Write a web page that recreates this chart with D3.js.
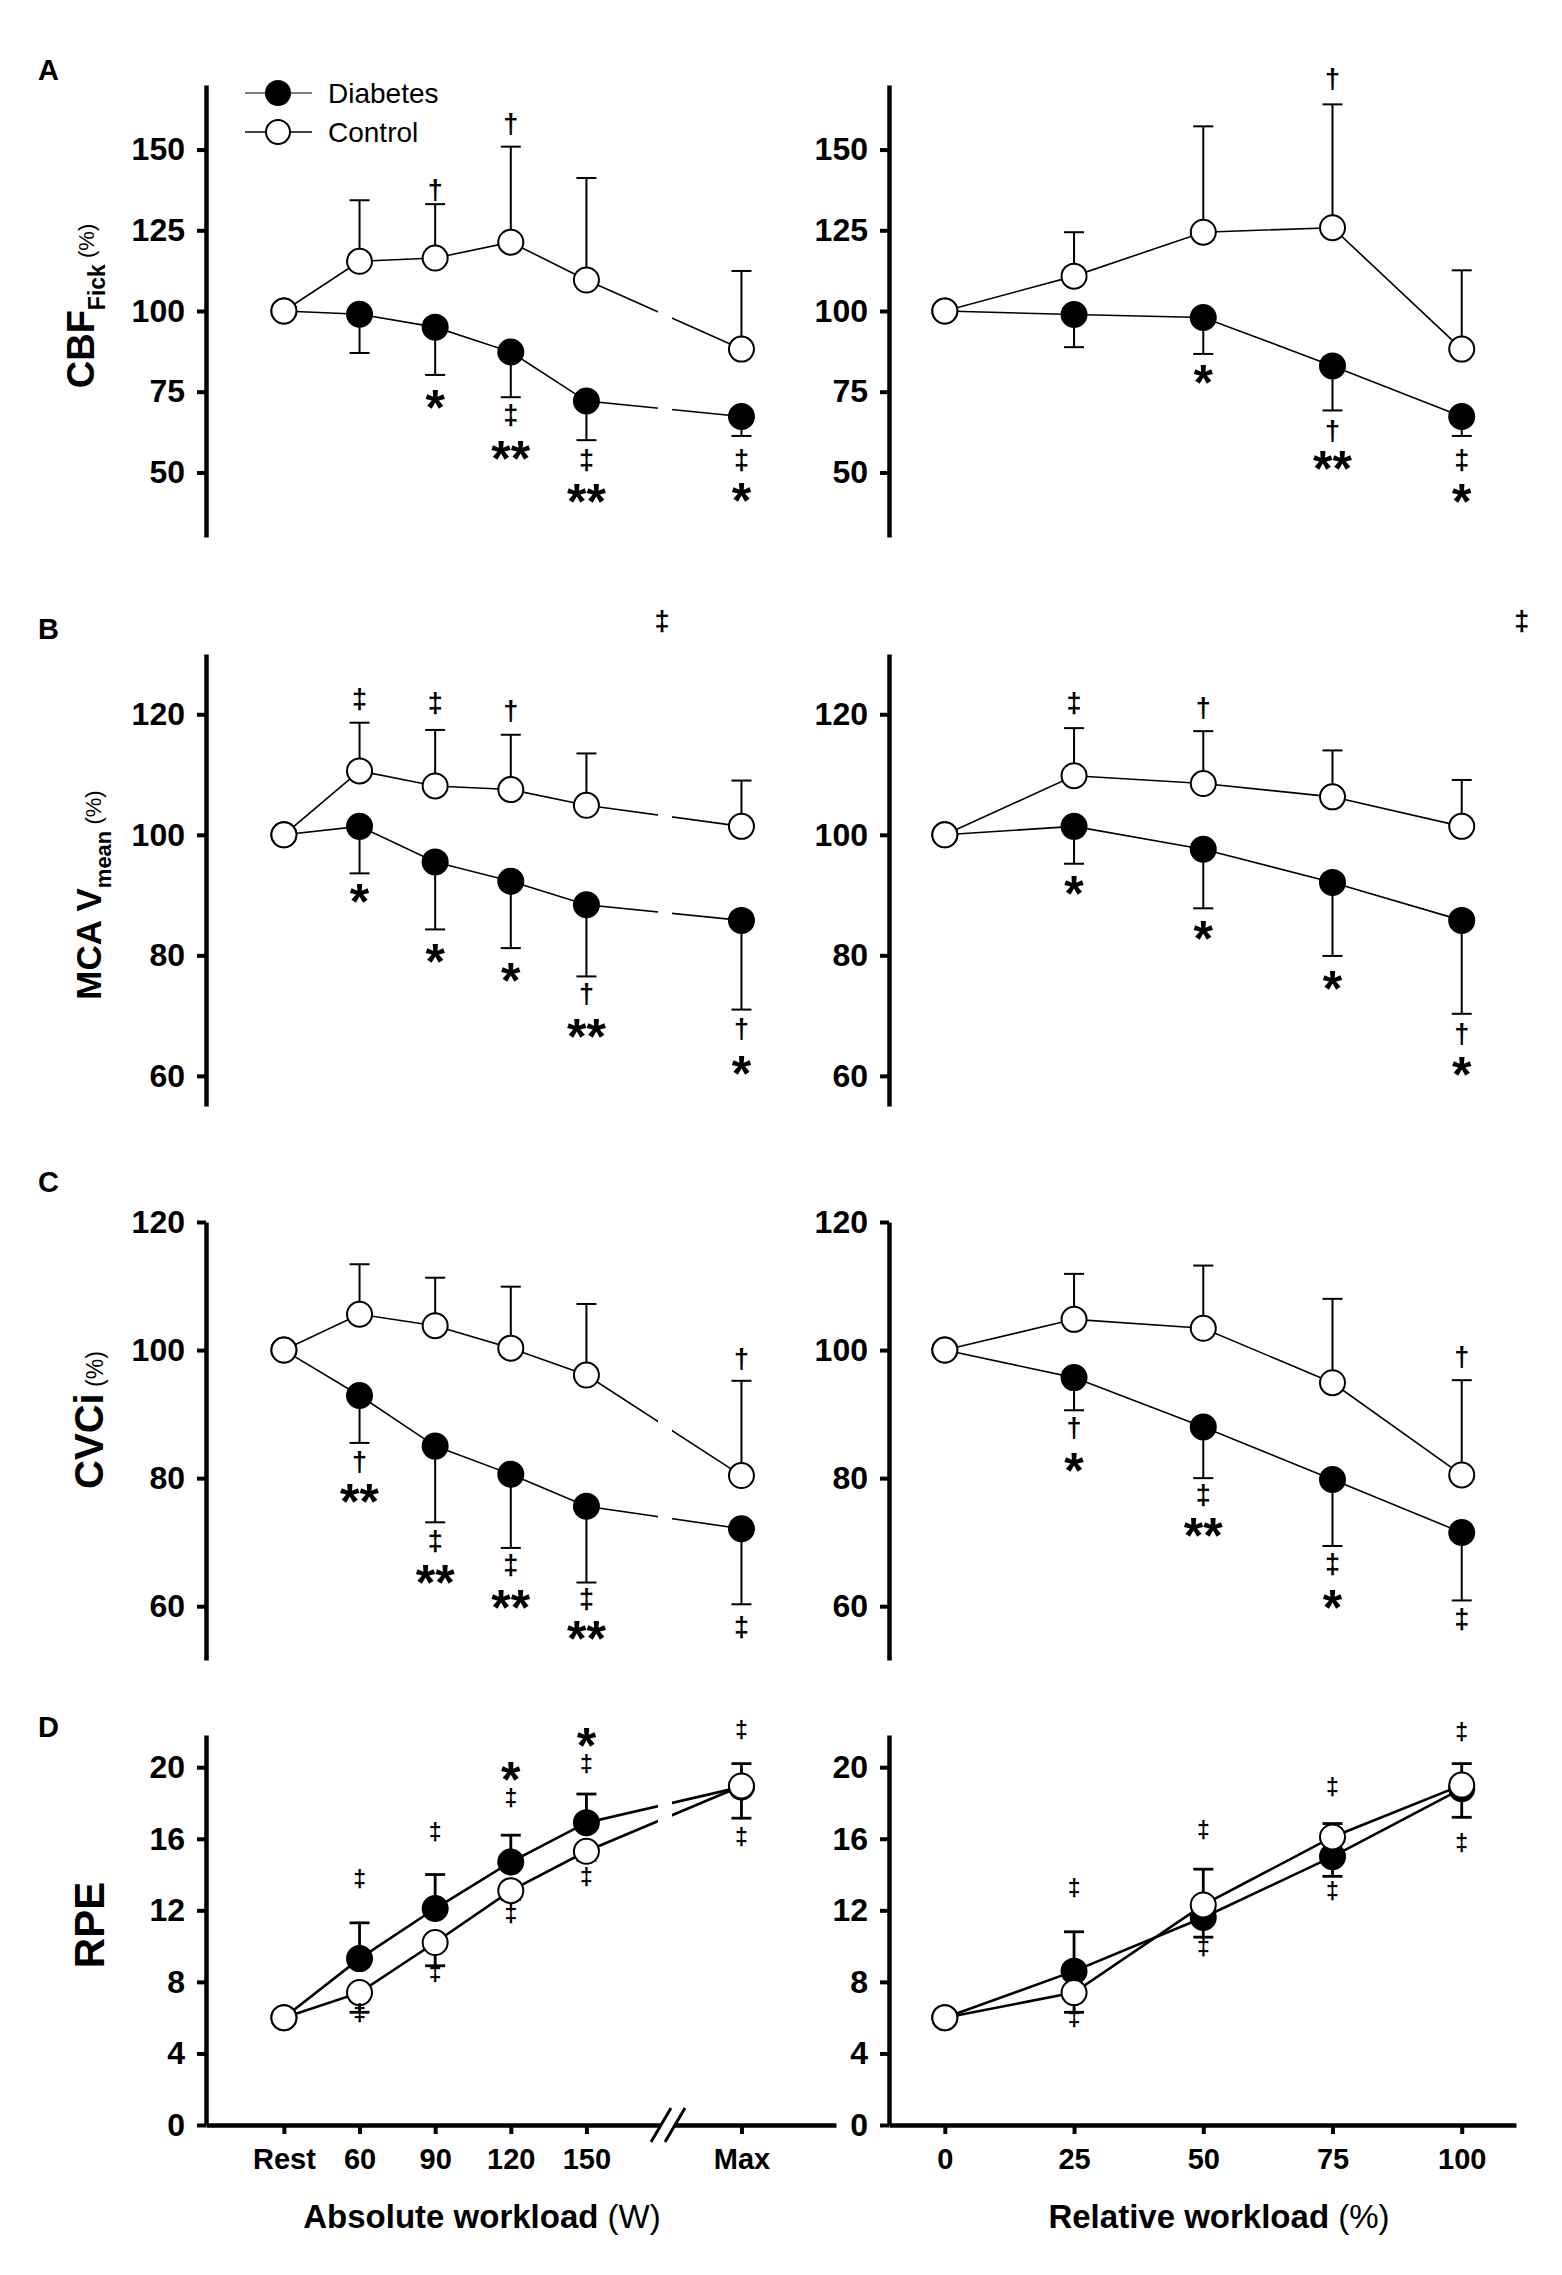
<!DOCTYPE html>
<html lang="en">
<head>
<meta charset="utf-8">
<title>CBF, MCA Vmean, CVCi and RPE during exercise</title>
<script src="https://d3js.org/d3.v7.min.js"></script>
<style>
  body { margin: 0; background: #fff; }
  svg text { font-family: "Liberation Sans", Arial, Helvetica, sans-serif; fill: #000; }
  .axis path, .axis line { stroke: #000; }
  .axis text { font-weight: bold; }
</style>
</head>
<body>
<script>
// ---- categories / tick labels ----
const absLabels = ["Rest", "60", "90", "120", "150", "Max"];
const absPos = [0, 1, 2, 3, 4, 6.05];          // Max sits after the axis break
const relLabels = ["0", "25", "50", "75", "100"];
const relPos = [0, 25, 50, 75, 100];

// ---- A: CBF Fick (%) ----
const cbfAbsDiab   = [100, 99.0, 95.0, 87.3, 72.1, 67.3];
const cbfAbsDiabSD = [0, 12.0, 14.8, 14.0, 12.1, 6.0];
const cbfAbsCtrl   = [100, 115.4, 116.4, 121.3, 109.6, 88.2];
const cbfAbsCtrlSD = [0, 18.9, 16.7, 29.6, 31.6, 24.2];
const cbfRelDiab   = [100, 98.9, 98.0, 83.0, 67.3];
const cbfRelDiabSD = [0, 10.1, 11.3, 13.8, 6.0];
const cbfRelCtrl   = [100, 110.8, 124.4, 125.8, 88.2];
const cbfRelCtrlSD = [0, 13.6, 32.8, 38.2, 24.4];

// ---- B: MCA Vmean (%) ----
const mcaAbsDiab   = [100, 101.4, 95.5, 92.3, 88.4, 85.8];
const mcaAbsDiabSD = [0, 7.8, 11.2, 11.1, 11.9, 14.8];
const mcaAbsCtrl   = [100, 110.6, 108.1, 107.5, 104.9, 101.4];
const mcaAbsCtrlSD = [0, 8.0, 9.3, 9.1, 8.6, 7.6];
const mcaRelDiab   = [100, 101.4, 97.6, 92.1, 85.8];
const mcaRelDiabSD = [0, 6.2, 9.8, 12.2, 15.5];
const mcaRelCtrl   = [100, 109.8, 108.5, 106.3, 101.4];
const mcaRelCtrlSD = [0, 7.9, 8.7, 7.7, 7.7];

// ---- C: CVCi (%) ----
const cvcAbsDiab   = [100, 92.9, 85.0, 80.6, 75.6, 72.1];
const cvcAbsDiabSD = [0, 7.4, 11.9, 11.5, 11.9, 11.8];
const cvcAbsCtrl   = [100, 105.6, 103.8, 100.3, 96.1, 80.4];
const cvcAbsCtrlSD = [0, 7.8, 7.5, 9.6, 11.1, 14.8];
const cvcRelDiab   = [100, 95.7, 88.0, 79.8, 71.5];
const cvcRelDiabSD = [0, 5.1, 8.0, 10.4, 10.6];
const cvcRelCtrl   = [100, 104.8, 103.4, 94.9, 80.5];
const cvcRelCtrlSD = [0, 7.1, 9.8, 13.1, 14.8];

// ---- D: RPE ----
const rpeAbsDiab   = [6, 9.3, 12.1, 14.7, 16.9, 18.9];
const rpeAbsDiabSD = [0, 2.0, 1.9, 1.5, 1.6, 1.3];
const rpeAbsCtrl   = [6, 7.4, 10.2, 13.1, 15.3, 18.95];
const rpeAbsCtrlSD = [0, 1.1, 1.3, 0.5, 0.5, 1.8];
const rpeRelDiab   = [6, 8.6, 11.6, 15.0, 18.8];
const rpeRelDiabSD = [0, 2.2, 2.7, 1.85, 1.4];
const rpeRelCtrl   = [6, 7.4, 12.3, 16.1, 19.0];
const rpeRelCtrlSD = [0, 1.1, 1.8, 2.2, 1.8];

// ---- significance marks: [x (axis units), y (data units), symbol] ----
const cbfAbsMarks = [[2,137.2,"†"],[2,73.4,"*"],[3,157.5,"†"],[3,67.3,"‡"],[3,57.6,"**"],
                     [4,53.4,"‡"],[4,44.3,"**"],[6.05,53.6,"‡"],[6.05,44.5,"*"]];
const cbfRelMarks = [[50,81.2,"*"],[75,171.6,"†"],[75,62.6,"†"],[75,54.4,"**"],[100,53.4,"‡"],[100,44.3,"*"]];
const mcaAbsMarks = [[1,122.3,"‡"],[1,90.6,"*"],[2,121.6,"‡"],[2,80.7,"*"],[3,120.4,"†"],[3,77.5,"*"],
                     [4,73.4,"†"],[4,68.3,"**"],[6.05,67.6,"†"],[6.05,62.2,"*"],[5.0,135.2,"‡"]];
const mcaRelMarks = [[25,121.6,"‡"],[25,92.0,"*"],[50,120.8,"†"],[50,84.5,"*"],[75,76.3,"*"],
                     [100,66.7,"†"],[100,61.9,"*"],[111.6,135.2,"‡"]];
const cvcAbsMarks = [[1,82.4,"†"],[1,78.0,"**"],[2,70.0,"‡"],[2,65.4,"**"],[3,66.3,"‡"],[3,61.5,"**"],
                     [4,60.9,"‡"],[4,56.6,"**"],[6.05,98.5,"†"],[6.05,56.5,"‡"]];
const cvcRelMarks = [[25,87.7,"†"],[25,82.9,"*"],[50,77.2,"‡"],[50,72.7,"**"],[75,66.4,"‡"],[75,61.5,"*"],
                     [100,98.7,"†"],[100,57.8,"‡"]];
const rpeAbsMarks = [[1,13.7,"‡"],[1,6.2,"‡"],[2,16.3,"‡"],[2,8.4,"‡"],[3,19.9,"*"],[3,18.2,"‡"],[3,11.7,"‡"],
                     [4,21.8,"*"],[4,20.1,"‡"],[4,13.8,"‡"],[6.05,22.0,"‡"],[6.05,16.0,"‡"]];
const rpeRelMarks = [[25,13.2,"‡"],[25,5.9,"‡"],[50,16.4,"‡"],[50,9.9,"‡"],[75,18.8,"‡"],[75,13.0,"‡"],
                     [100,21.9,"‡"],[100,15.7,"‡"]];

// ---- y-axis ticks ----
const cbfTicks = [50, 75, 100, 125, 150];
const mcaTicks = [60, 80, 100, 120];
const cvcTicks = [60, 80, 100, 120];
const rpeTicks = [0, 4, 8, 12, 16, 20];

// ---- layout ----
const svgW = 1562, svgH = 2275;
const svg = d3.select("body").append("svg")
    .attr("width", svgW).attr("height", svgH);

const xAbs = d3.scaleLinear().domain([-1.03, 7.3]).range([206, 836]);
const xRel = d3.scaleLinear().domain([-10.8, 110.5]).range([889, 1516]);
const breakX = [658, 672];

const panels = [
  { letter: "A", letterY: 80, domain: [30, 170], range: [537, 85], ticks: cbfTicks, ctrlUp: true, thick: false,
    title: [["CBF", 38, "bold", 0], ["Fick", 23, "bold", 11], [" (%)", 22, "normal", -11]], titleX: 94, titleY: 306,
    abs: [cbfAbsDiab, cbfAbsDiabSD, cbfAbsCtrl, cbfAbsCtrlSD, cbfAbsMarks],
    rel: [cbfRelDiab, cbfRelDiabSD, cbfRelCtrl, cbfRelCtrlSD, cbfRelMarks] },
  { letter: "B", letterY: 639, domain: [55, 130], range: [1106, 654], ticks: mcaTicks, ctrlUp: true, thick: false,
    title: [["MCA V", 35, "bold", 0], ["mean", 22, "bold", 10], [" (%)", 22, "normal", -10]], titleX: 101, titleY: 895,
    abs: [mcaAbsDiab, mcaAbsDiabSD, mcaAbsCtrl, mcaAbsCtrlSD, mcaAbsMarks],
    rel: [mcaRelDiab, mcaRelDiabSD, mcaRelCtrl, mcaRelCtrlSD, mcaRelMarks] },
  { letter: "C", letterY: 1192, domain: [51.6, 120], range: [1660, 1222], ticks: cvcTicks, ctrlUp: true, thick: false,
    title: [["CVCi", 40, "bold", 0], [" (%)", 23, "normal", 0]], titleX: 103, titleY: 1420,
    abs: [cvcAbsDiab, cvcAbsDiabSD, cvcAbsCtrl, cvcAbsCtrlSD, cvcAbsMarks],
    rel: [cvcRelDiab, cvcRelDiabSD, cvcRelCtrl, cvcRelCtrlSD, cvcRelMarks] },
  { letter: "D", letterY: 1737, domain: [0, 21.8], range: [2125, 1735], ticks: rpeTicks, ctrlUp: false, thick: true,
    title: [["RPE", 42, "bold", 0]], titleX: 104, titleY: 1925,
    abs: [rpeAbsDiab, rpeAbsDiabSD, rpeAbsCtrl, rpeAbsCtrlSD, rpeAbsMarks],
    rel: [rpeRelDiab, rpeRelDiabSD, rpeRelCtrl, rpeRelCtrlSD, rpeRelMarks] }
];

// draw a significance symbol centred on (cx, cy)
function mark(g, cx, cy, t, daggerSize) {
  const star = t.indexOf("*") >= 0;
  const fs = star ? 50 : daggerSize;
  g.append("text")
    .attr("x", cx)
    .attr("y", cy + (star ? 0.56 : 0.29) * fs)
    .attr("text-anchor", "middle")
    .attr("font-size", fs)
    .attr("font-weight", "bold")
    .text(t);
}

function drawSide(p, x, pos, series, isAbs) {
  const y = d3.scaleLinear().domain(p.domain).range(p.range);
  const [dM, dS, cM, cS, marks] = series;
  const g = svg.append("g");
  const lw = p.thick ? 2.6 : 1.6;
  const ew = p.thick ? 2.8 : 2;
  const cap = 10;

  // y axis
  const axis = d3.axisLeft(y).tickValues(p.ticks).tickSize(9).tickPadding(12).tickSizeOuter(0);
  const ag = g.append("g").attr("class", "axis")
    .attr("transform", "translate(" + x.range()[0] + ",0)")
    .call(axis);
  ag.select(".domain").attr("stroke-width", 4.5);
  ag.selectAll(".tick line").attr("stroke-width", 4);
  ag.selectAll(".tick text").attr("font-size", 32);

  // error bars (one direction per group)
  function errBars(m, s, up) {
    m.forEach((v, i) => {
      if (!s[i]) return;
      const px = x(pos[i]);
      const end = up ? v + s[i] : v - s[i];
      g.append("line").attr("x1", px).attr("x2", px)
        .attr("y1", y(v)).attr("y2", y(end))
        .attr("stroke", "#000").attr("stroke-width", ew);
      g.append("line").attr("x1", px - cap).attr("x2", px + cap)
        .attr("y1", y(end)).attr("y2", y(end))
        .attr("stroke", "#000").attr("stroke-width", ew);
    });
  }
  errBars(dM, dS, !p.ctrlUp);
  errBars(cM, cS, p.ctrlUp);

  // connecting lines
  const line = d3.line().x((d, i) => x(pos[i])).y(d => y(d));
  [dM, cM].forEach(m => {
    g.append("path").attr("d", line(m))
      .attr("fill", "none").attr("stroke", "#000").attr("stroke-width", lw);
  });

  // gap in the lines where the absolute axis is broken
  if (isAbs) {
    g.append("rect")
      .attr("x", breakX[0]).attr("width", breakX[1] - breakX[0])
      .attr("y", p.range[1] + 5).attr("height", p.range[0] - p.range[1] - 12)
      .attr("fill", "#fff");
  }

  // markers
  g.selectAll(null).data(dM).enter().append("circle")
    .attr("cx", (d, i) => x(pos[i])).attr("cy", d => y(d)).attr("r", 12.5)
    .attr("fill", "#000").attr("stroke", "#000").attr("stroke-width", 2);
  g.selectAll(null).data(cM).enter().append("circle")
    .attr("cx", (d, i) => x(pos[i])).attr("cy", d => y(d)).attr("r", 12.5)
    .attr("fill", "#fff").attr("stroke", "#000").attr("stroke-width", 2);

  // significance symbols
  marks.forEach(m => mark(g, x(m[0]), y(m[1]), m[2], p.thick ? 23 : 27));

  // x axis only on the bottom row
  if (p.letter === "D") {
    const xa = d3.axisBottom(x)
      .tickValues(pos)
      .tickFormat((d, i) => isAbs ? absLabels[i] : relLabels[i])
      .tickSize(9).tickPadding(14).tickSizeOuter(0);
    const xg = g.append("g").attr("class", "axis")
      .attr("transform", "translate(0," + p.range[0] + ")")
      .call(xa);
    xg.select(".domain").attr("stroke-width", 4.5);
    xg.selectAll(".tick line").attr("stroke-width", 4);
    xg.selectAll(".tick text").attr("font-size", 29);
    if (isAbs) {
      // axis break "//"
      xg.append("rect").attr("x", 661).attr("width", 14).attr("y", -5).attr("height", 10).attr("fill", "#fff");
      [661, 675].forEach(bx => {
        xg.append("line")
          .attr("x1", bx - 10).attr("y1", 17).attr("x2", bx + 10).attr("y2", -17)
          .attr("stroke", "#000").attr("stroke-width", 3);
      });
    }
  }
}

panels.forEach(p => {
  drawSide(p, xAbs, absPos, p.abs, true);
  drawSide(p, xRel, relPos, p.rel, false);

  // panel letter
  svg.append("text").attr("x", 38).attr("y", p.letterY)
    .attr("font-size", 29).attr("font-weight", "bold").text(p.letter);

  // y-axis title
  const t = svg.append("text")
    .attr("transform", "translate(" + p.titleX + "," + p.titleY + ") rotate(-90)")
    .attr("text-anchor", "middle");
  p.title.forEach(s => {
    t.append("tspan").attr("font-size", s[1]).attr("font-weight", s[2])
      .attr("dy", s[3]).text(s[0]);
  });
});

// legend (panel A)
const legend = [["Diabetes", "#000", "#555"], ["Control", "#fff", "#000"]];
legend.forEach((l, i) => {
  const ly = 93 + i * 39;
  svg.append("line").attr("x1", 245).attr("x2", 312).attr("y1", ly).attr("y2", ly)
    .attr("stroke", l[2]).attr("stroke-width", 1.6);
  svg.append("circle").attr("cx", 278).attr("cy", ly).attr("r", 12)
    .attr("fill", l[1]).attr("stroke", "#000").attr("stroke-width", 2);
  svg.append("text").attr("x", 328).attr("y", ly + 10)
    .attr("font-size", 28).text(l[0]);
});

// x-axis titles
const xTitles = [[482, "Absolute workload", " (W)"], [1219, "Relative workload", " (%)"]];
xTitles.forEach(d => {
  const t = svg.append("text").attr("x", d[0]).attr("y", 2228)
    .attr("text-anchor", "middle").attr("font-size", 33);
  t.append("tspan").attr("font-weight", "bold").text(d[1]);
  t.append("tspan").attr("font-weight", "normal").text(d[2]);
});
</script>
</body>
</html>
